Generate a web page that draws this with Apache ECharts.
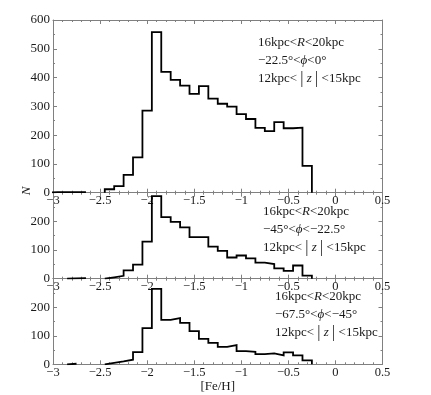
<!DOCTYPE html>
<html><head><meta charset="utf-8">
<script src="https://cdn.jsdelivr.net/npm/echarts@6/dist/echarts.min.js"></script>
<style>html,body{margin:0;padding:0;background:#fff}#c{width:431px;height:395px}</style>
</head><body><div id="c"></div>
<script>
// Bin centres of [Fe/H] histograms (bin width 0.1)
const binCenters = [-3.0,-2.9,-2.8,-2.7,-2.6,-2.5,-2.4,-2.3,-2.2,-2.1,-2.0,-1.9,-1.8,-1.7,-1.6,-1.5,-1.4,-1.3,-1.2,-1.1,-1.0,-0.9,-0.8,-0.7,-0.6,-0.5,-0.4,-0.3,-0.2,-0.1,0.0,0.1,0.2,0.3,0.4];
const binWidth = 0.1;
// counts, panel 1: -22.5° < phi < 0°
const countsPhi1 = [2,2,2,2,0,0,12,23,62,123,285,558,420,392,372,343,370,327,309,299,273,256,225,214,245,224,226,93,0,0,0,0,0,0,0];
// panel 2: -45° < phi < -22.5°
const countsPhi2 = [0,0,1,2,0,0,5,10,29,49,129,288,215,198,179,145,145,112,97,74,81,71,56,51,36,27,46,11,0,0,0,0,0,0,0];
// panel 3: -67.5° < phi < -45°
const countsPhi3 = [0,0,2,0,0,0,5,10,16,43,127,264,156,162,145,116,89,75,61,67,46,44,36,38,31,42,31,14,0,0,0,0,0,0,0];
const yMaxes = [600, 300, 300];
const xTicks = {min: -3, max: 0.5, interval: 0.5};
const labelsR = ['16kpc<', 'R', '<20kpc'];
const labelsPhi = [['\u221222.5\u00b0<', '\u03d5', '<0\u00b0'], ['\u221245\u00b0<', '\u03d5', '<\u221222.5\u00b0'], ['\u221267.5\u00b0<', '\u03d5', '<\u221245\u00b0']];
const labelsZ = ['12kpc< ', '|', 'z', '|', ' <15kpc'];
const xName = '[Fe/H]';
const yName = 'N';

// histogram outline: steps over non-empty bins, gaps over empty runs (axis shows there)
function stepPoints(counts){
  const pts = [];
  let prev = 0;
  binCenters.forEach((c, i) => {
    const v = counts[i], lo = c - binWidth/2, hi = c + binWidth/2;
    if (v > 0) {
      if (prev === 0) pts.push([lo, 0]);
      pts.push([lo, v]);
      pts.push([hi, v]);
    } else if (prev > 0) {
      pts.push([lo, 0]);
      pts.push([lo, '-']);
    }
    prev = v;
  });
  if (prev > 0) pts.push([binCenters[binCenters.length-1] + binWidth/2, 0]);
  return pts;
}

const FONT = '"Liberation Serif", "DejaVu Serif", serif';
const AX = '#808080';
const TXT = '#1a1a1a';
const fmt = v => String(Math.round(v*10)/10).replace('-', '\u2212');

const grids = [
  {left: 53, right: 48.5, top: 20, height: 172.7},
  {left: 53, right: 48.5, top: 192.7, height: 86},
  {left: 53, right: 48.5, top: 278.7, height: 85.6}
];

const xAxes = [], yAxes = [], series = [];
[countsPhi1, countsPhi2, countsPhi3].forEach((counts, g) => {
  xAxes.push({
    type: 'value', gridIndex: g, position: 'bottom', min: xTicks.min, max: xTicks.max, interval: xTicks.interval,
    axisLine: {show: true, onZero: false, lineStyle: {color: AX, width: 1}},
    axisTick: {show: true, inside: true, length: 4, lineStyle: {color: AX}},
    minorTick: {show: true, splitNumber: 5, length: 2, lineStyle: {color: AX}},
    splitLine: {show: false},
    axisLabel: {show: true, margin: 2, fontFamily: FONT, fontSize: 12.5, color: TXT, formatter: fmt, showMinLabel: true, showMaxLabel: true},
    name: g === 2 ? xName : '', nameLocation: 'middle', nameGap: 12,
    nameTextStyle: {fontFamily: FONT, fontSize: 13, color: TXT, verticalAlign: 'top'}
  });
  xAxes.push({
    type: 'value', gridIndex: g, position: 'top', min: xTicks.min, max: xTicks.max, interval: xTicks.interval,
    axisLine: {show: true, onZero: false, lineStyle: {color: AX, width: 1}},
    axisTick: {show: true, inside: true, length: 4, lineStyle: {color: AX}},
    minorTick: {show: true, splitNumber: 5, length: 2, lineStyle: {color: AX}},
    splitLine: {show: false}, axisLabel: {show: false}
  });
  yAxes.push({
    type: 'value', gridIndex: g, position: 'left', min: 0, max: yMaxes[g], interval: 100,
    axisLine: {show: true, onZero: false, lineStyle: {color: AX, width: 1}},
    axisTick: {show: true, inside: true, length: 4, lineStyle: {color: AX}},
    minorTick: {show: true, splitNumber: 2, length: 2, lineStyle: {color: AX}},
    splitLine: {show: false},
    axisLabel: {show: true, margin: 3, fontFamily: FONT, fontSize: 13, color: TXT, showMaxLabel: g === 0}
  });
  yAxes.push({
    type: 'value', gridIndex: g, position: 'right', min: 0, max: yMaxes[g], interval: 100,
    axisLine: {show: true, onZero: false, lineStyle: {color: AX, width: 1}},
    axisTick: {show: true, inside: true, length: 4, lineStyle: {color: AX}},
    minorTick: {show: true, splitNumber: 2, length: 2, lineStyle: {color: AX}},
    splitLine: {show: false}, axisLabel: {show: false}
  });
  series.push({
    type: 'line', xAxisIndex: g*2, yAxisIndex: g*2, data: stepPoints(counts),
    showSymbol: false, symbol: 'none', clip: true, silent: true, connectNulls: false,
    lineStyle: {color: '#000', width: 1.8, join: 'miter'}
  });
});

const rich = {
  a: {fontFamily: FONT, fontSize: 13, color: TXT, lineHeight: 18},
  i: {fontFamily: FONT, fontSize: 13, color: TXT, fontStyle: 'italic', lineHeight: 18},
  b: {fontFamily: FONT, fontSize: 16, color: TXT, lineHeight: 18}
};
function annot(p){
  return '{a|' + labelsR[0] + '}{i|' + labelsR[1] + '}{a|' + labelsR[2] + '}\n' +
         '{a|' + labelsPhi[p][0] + '}{i|' + labelsPhi[p][1] + '}{a|' + labelsPhi[p][2] + '}\n' +
         '{a|' + labelsZ[0] + '}{b|' + labelsZ[1] + '}{i| ' + labelsZ[2] + ' }{b|' + labelsZ[3] + '}{a|' + labelsZ[4] + '}';
}
const annotPos = [{left: 258, top: 34}, {left: 263, top: 203}, {left: 275, top: 288}];
const titles = annotPos.map((pos, p) => ({
  text: annot(p), left: pos.left, top: pos.top, padding: 0,
  textStyle: {rich: rich, fontFamily: FONT, fontSize: 13, color: TXT, fontWeight: 'normal', lineHeight: 18}
}));

const chart = echarts.init(document.getElementById('c'), null, {renderer: 'canvas'});
chart.setOption({
  backgroundColor: '#fff',
  animation: false,
  title: titles,
  grid: grids,
  xAxis: xAxes,
  yAxis: yAxes,
  series: series,
  graphic: [{
    type: 'text', x: 27, y: 191, rotation: Math.PI/2,
    style: {text: yName, fontFamily: FONT, fontSize: 13, fontStyle: 'italic', fill: TXT, align: 'center', verticalAlign: 'middle'}
  }]
});
</script></body></html>
